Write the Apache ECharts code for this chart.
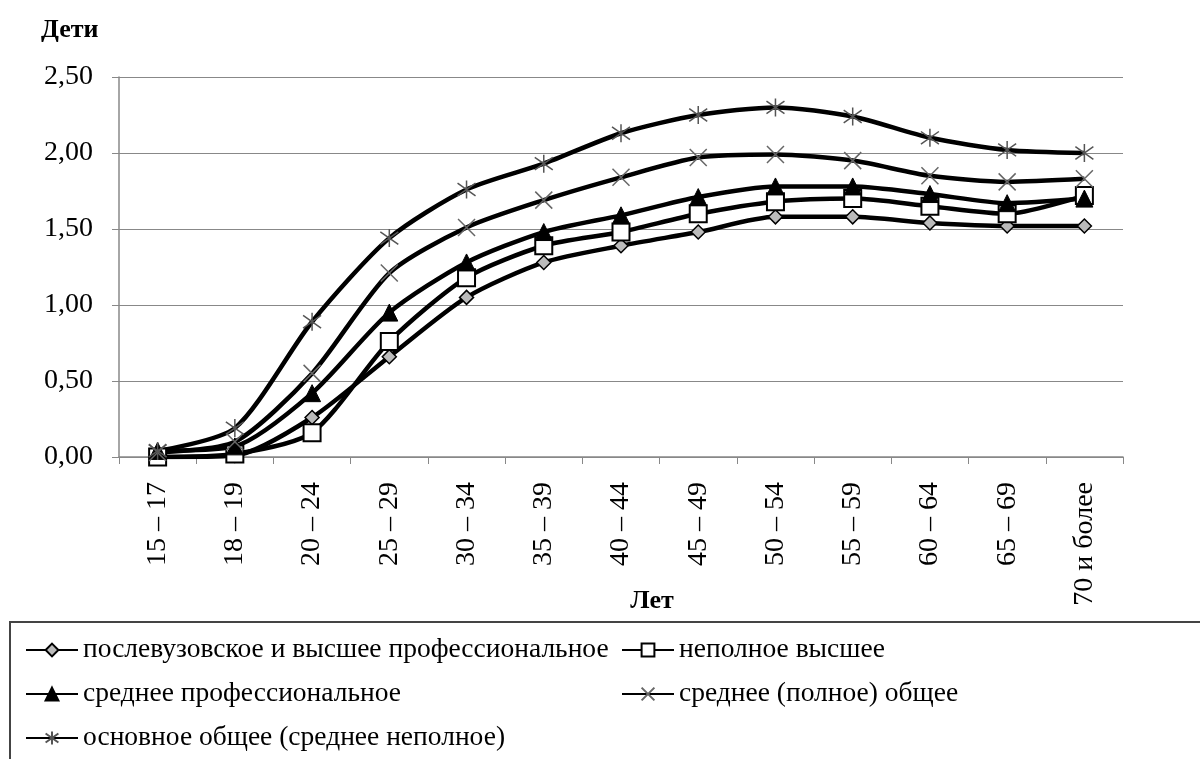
<!DOCTYPE html>
<html><head><meta charset="utf-8">
<script src="https://cdn.jsdelivr.net/npm/echarts@6/dist/echarts.min.js"></script>
<style>html,body{margin:0;padding:0;background:#fff}#c{width:1200px;height:759px}</style>
</head><body><div id="c"></div>
<script>
const categories = ['15 – 17','18 – 19','20 – 24','25 – 29','30 – 34','35 – 39','40 – 44','45 – 49','50 – 54','55 – 59','60 – 64','65 – 69','70 и более'];
const seriesNames = ['послевузовское и высшее профессиональное','неполное высшее','среднее профессиональное','среднее (полное) общее','основное общее (среднее неполное)'];
const postgrad = [0.00,0.01,0.26,0.66,1.05,1.28,1.39,1.48,1.58,1.58,1.54,1.52,1.52];
const incompleteHigher = [0.00,0.02,0.16,0.76,1.18,1.39,1.48,1.60,1.68,1.70,1.65,1.60,1.72];
const vocational = [0.04,0.07,0.42,0.95,1.28,1.48,1.59,1.71,1.78,1.78,1.73,1.67,1.70];
const secondaryFull = [0.03,0.10,0.55,1.21,1.51,1.69,1.84,1.97,1.99,1.95,1.85,1.81,1.83];
const basicGeneral = [0.04,0.19,0.89,1.44,1.76,1.93,2.13,2.25,2.30,2.24,2.10,2.02,2.00];
const yTicks = [0, 0.5, 1.0, 1.5, 2.0, 2.5];

const FONT = 'Liberation Serif';
const xPath = 'path://M0,0L10,10M10,0L0,10';
const starPath = 'path://M5,0L5,10M0,1.5L10,8.5M10,1.5L0,8.5';

const chart = echarts.init(document.getElementById('c'));
function mk(name, data, symbol, size, itemStyle){
  return {name, type:'line', data, smooth:0.25, symbol, symbolSize:size, showSymbol:true,
    lineStyle:{color:'#000', width:4.5}, itemStyle, emphasis:{disabled:true}, z:2};
}
const series = [
  mk(seriesNames[0], postgrad, 'diamond', 14, {color:'#bbb', borderColor:'#000', borderWidth:1.5}),
  mk(seriesNames[1], incompleteHigher, 'rect', 17, {color:'#fff', borderColor:'#000', borderWidth:2}),
  mk(seriesNames[2], vocational, 'triangle', 17, {color:'#000', borderColor:'#000', borderWidth:1}),
  mk(seriesNames[3], secondaryFull, xPath, 17, {color:'none', borderColor:'#666', borderWidth:1.5}),
  mk(seriesNames[4], basicGeneral, starPath, 18, {color:'none', borderColor:'#555', borderWidth:1.5})
];
const legendText = {fontFamily:FONT, fontSize:27.5, color:'#000'};
const boldTitle = {fontFamily:FONT, fontSize:26, fontWeight:'bold', color:'#000'};
chart.setOption({
  animation:false,
  backgroundColor:'#fff',
  title:[
    {text:'Дети', left:36, top:12, textStyle:boldTitle},
    {text:'Лет', left:647, top:583, textAlign:'center', textStyle:boldTitle}
  ],
  grid:{left:119, right:77, top:77, bottom:302},
  xAxis:{type:'category', data:categories, boundaryGap:true,
    axisLine:{lineStyle:{color:'#888', width:1.5}},
    axisTick:{show:true, length:7, lineStyle:{color:'#888'}},
    axisLabel:{rotate:90, margin:25, fontFamily:FONT, fontSize:28, color:'#000', interval:0}},
  yAxis:{type:'value', min:0, max:2.5, interval:0.5,
    axisLine:{show:true, lineStyle:{color:'#888', width:1.5}},
    axisTick:{show:true, length:7, lineStyle:{color:'#888'}},
    splitLine:{lineStyle:{color:'#888', width:1.2}},
    axisLabel:{margin:26, fontFamily:FONT, fontSize:28, color:'#000',
      formatter:v=>v.toFixed(2).replace('.',',')}},
  legend:[
    {data:[seriesNames[0],seriesNames[2],seriesNames[4]], orient:'vertical', left:20, top:631, itemGap:16,
     itemWidth:52, itemHeight:16, textStyle:legendText, selectedMode:false},
    {data:[seriesNames[1],seriesNames[3]], orient:'vertical', left:616, top:631, itemGap:16,
     itemWidth:52, itemHeight:16, textStyle:legendText, selectedMode:false}
  ],
  graphic:[{type:'rect', shape:{x:10, y:622, width:1200, height:150}, style:{fill:'none', stroke:'#444', lineWidth:2}, silent:true}],
  series
});
</script></body></html>
